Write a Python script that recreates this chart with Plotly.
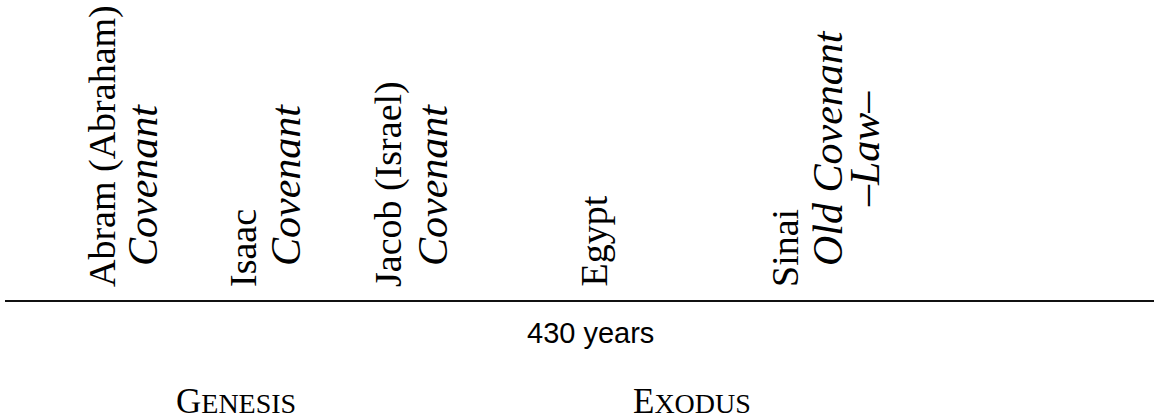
import plotly.graph_objects as go

# ---- data ----
events = ["Abram (Abraham)", "Isaac", "Jacob (Israel)", "Egypt", "Sinai"]
event_notes = [["Covenant"], ["Covenant"], ["Covenant"], [], ["Old Covenant", "–Law–"]]
event_pos = [102, 243, 388, 593, 785]          # timeline position of each event
note_gap = [41, 43, 45, 43, 43]
span_label = "430 years"
books = ["G|ENESIS", "E|XODUS"]
book_pos = [236, 692]
timeline_extent = [5, 1154]

W, H = 1154, 418
SERIF = "Liberation Serif, Times New Roman, serif"
SANS = "Liberation Sans, Arial, sans-serif"

fig = go.Figure()

# timeline line
fig.add_trace(go.Scatter(x=timeline_extent, y=[301, 301], mode="lines",
                         line=dict(color="#111", width=2), hoverinfo="skip",
                         showlegend=False))

ann = []
for name, notes, x, gap in zip(events, event_notes, event_pos, note_gap):
    ann.append(dict(x=x, y=289, text=name, textangle=-90, showarrow=False,
                    xanchor="center", yanchor="bottom",
                    font=dict(family=SERIF, size=38, color="black")))
    for i, note in enumerate(notes):
        yb = 268 if i == 0 else 209
        ann.append(dict(x=x + gap + 37 * i, y=yb, text="<i>%s</i>" % note,
                        textangle=-90, showarrow=False,
                        xanchor="center", yanchor="bottom",
                        font=dict(family=SERIF, size=42, color="black")))

ann.append(dict(x=590, y=333, text=span_label, showarrow=False,
                xanchor="center", yanchor="middle",
                font=dict(family=SANS, size=29, color="black")))

for b, x in zip(books, book_pos):
    first, rest = b.split("|")
    ann.append(dict(x=x, y=401, text=first + '<span style="font-size:28px">' + rest + "</span>",
                    showarrow=False, xanchor="center", yanchor="middle",
                    font=dict(family=SERIF, size=35, color="black")))

fig.update_layout(
    width=W, height=H, margin=dict(l=0, r=0, t=0, b=0),
    paper_bgcolor="white", plot_bgcolor="white",
    xaxis=dict(range=[0, W], visible=False, fixedrange=True),
    yaxis=dict(range=[H, 0], visible=False, fixedrange=True),
    annotations=ann, showlegend=False,
)
fig.write_html("out.html", config={"displayModeBar": False},
               post_script="document.body.style.margin='0';document.body.style.overflow='hidden';")
